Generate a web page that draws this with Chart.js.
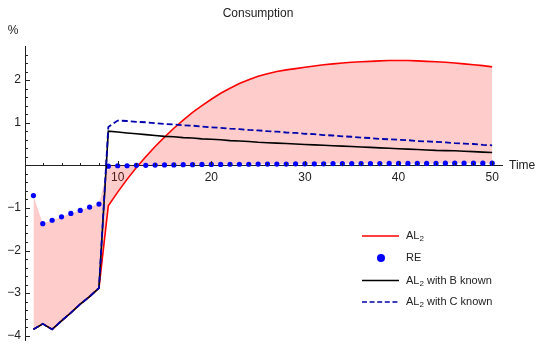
<!DOCTYPE html>
<html>
<head>
<meta charset="utf-8">
<script src="https://cdn.jsdelivr.net/npm/chart.js@4"></script>
<style>
  html, body { margin: 0; padding: 0; background: #ffffff; }
  #c { display: block; }
</style>
</head>
<body>
<canvas id="c" width="539" height="344"></canvas>
<script>
// Periods after the shock
const time = [1, 2, 3, 4, 5, 6, 7, 8, 9, 10,
  11, 12, 13, 14, 15, 16, 17, 18, 19, 20,
  21, 22, 23, 24, 25, 26, 27, 28, 29, 30,
  31, 32, 33, 34, 35, 36, 37, 38, 39, 40,
  41, 42, 43, 44, 45, 46, 47, 48, 49, 50];

// Consumption response, % deviation
const al2 = [-3.85, -3.72, -3.85, -3.65, -3.46, -3.26, -3.08, -2.88, -0.95, -0.63,
  -0.33, -0.05, 0.20, 0.44, 0.66, 0.87, 1.06, 1.24, 1.40, 1.55,
  1.69, 1.81, 1.92, 2.01, 2.09, 2.15, 2.20, 2.24, 2.27, 2.30,
  2.33, 2.36, 2.38, 2.40, 2.42, 2.43, 2.44, 2.45, 2.46, 2.46,
  2.46, 2.45, 2.44, 2.43, 2.42, 2.40, 2.38, 2.36, 2.34, 2.31];

const re = [-0.71, -1.37, -1.29, -1.21, -1.13, -1.06, -0.98, -0.91, -0.02, -0.01,
  -0.01, 0.00, 0.00, 0.005, 0.01, 0.01, 0.015, 0.015, 0.02, 0.02,
  0.02, 0.025, 0.025, 0.025, 0.03, 0.03, 0.03, 0.03, 0.035, 0.035,
  0.035, 0.035, 0.04, 0.04, 0.04, 0.04, 0.04, 0.04, 0.045, 0.045,
  0.045, 0.045, 0.045, 0.045, 0.05, 0.05, 0.05, 0.05, 0.05, 0.05];

const al2B = [-3.85, -3.72, -3.85, -3.65, -3.46, -3.26, -3.08, -2.88, 0.80, 0.78,
  0.76, 0.74, 0.72, 0.70, 0.68, 0.67, 0.65, 0.64, 0.62, 0.61,
  0.60, 0.58, 0.57, 0.56, 0.54, 0.53, 0.52, 0.51, 0.50, 0.49,
  0.48, 0.47, 0.46, 0.45, 0.44, 0.43, 0.42, 0.41, 0.40, 0.39,
  0.38, 0.37, 0.36, 0.35, 0.345, 0.34, 0.33, 0.32, 0.31, 0.30];

const al2C = [-3.85, -3.72, -3.85, -3.65, -3.46, -3.26, -3.08, -2.88, 0.90, 1.05,
  1.04, 1.02, 1.01, 0.99, 0.97, 0.96, 0.94, 0.93, 0.91, 0.89,
  0.88, 0.86, 0.85, 0.83, 0.82, 0.80, 0.79, 0.77, 0.76, 0.74,
  0.73, 0.71, 0.70, 0.68, 0.67, 0.65, 0.64, 0.62, 0.61, 0.60,
  0.59, 0.57, 0.56, 0.55, 0.54, 0.52, 0.51, 0.50, 0.48, 0.47];

const xTicks = [10, 20, 30, 40, 50];
const yTicks = [-4, -3, -2, -1, 1, 2];
const yTickLabels = ['\u22124', '\u22123', '\u22122', '\u22121', '1', '2'];

const FONT = '"Liberation Sans", Arial, sans-serif';
const TEXT = '#222222';
const RED = '#ff0000';
const DOT_BLUE = '#0000ff';
const NAVY = '#0000aa';

const toPoints = arr => time.map((t, i) => ({ x: t, y: arr[i] }));

// Mathematica-style tick marks, axis captions, title and legend
const decorations = {
  id: 'decorations',
  afterDraw(chart) {
    const { ctx, chartArea, scales: { x, y } } = chart;
    const y0 = Math.round(y.getPixelForValue(0)) + 0.5;
    const xl = Math.round(chartArea.left) + 0.5;
    ctx.save();
    ctx.strokeStyle = TEXT;
    ctx.lineWidth = 1;
    ctx.beginPath();
    for (let v = 2; v <= 50; v += 2) {
      const px = Math.round(x.getPixelForValue(v)) + 0.5;
      const len = v % 10 === 0 ? 4.5 : 2.5;
      ctx.moveTo(px, y0);
      ctx.lineTo(px, y0 - len);
    }
    for (let k = -20; k <= 13; k++) {
      if (k === 0) continue;
      const py = Math.round(y.getPixelForValue(k / 5)) + 0.5;
      const len = k % 5 === 0 ? 4.5 : 2.5;
      ctx.moveTo(xl, py);
      ctx.lineTo(xl + len, py);
    }
    ctx.stroke();

    ctx.fillStyle = TEXT;
    ctx.textBaseline = 'middle';
    ctx.font = '12px ' + FONT;
    ctx.textAlign = 'center';
    ctx.fillText('Consumption', 258, 14);
    ctx.fillText('%', 13, 31);
    ctx.textAlign = 'left';
    ctx.fillText('Time', 509, y0);

    // legend
    const entries = [
      { sub: true, rest: '', kind: 'line', color: RED, dash: [] },
      { sub: false, text: 'RE', kind: 'dot', color: DOT_BLUE },
      { sub: true, rest: ' with B known', kind: 'line', color: '#000000', dash: [] },
      { sub: true, rest: ' with C known', kind: 'line', color: NAVY, dash: [5, 2.6] }
    ];
    const rows = [236, 258, 280.5, 302];
    entries.forEach((e, i) => {
      const ry = rows[i];
      if (e.kind === 'line') {
        ctx.beginPath();
        ctx.setLineDash(e.dash);
        ctx.strokeStyle = e.color;
        ctx.lineWidth = 1.6;
        ctx.moveTo(362, ry);
        ctx.lineTo(399, ry);
        ctx.stroke();
        ctx.setLineDash([]);
      } else {
        ctx.beginPath();
        ctx.fillStyle = e.color;
        ctx.arc(381, ry, 4, 0, Math.PI * 2);
        ctx.fill();
      }
      ctx.fillStyle = TEXT;
      ctx.textAlign = 'left';
      ctx.textBaseline = 'middle';
      let tx = 406;
      if (e.sub) {
        ctx.font = '11px ' + FONT;
        ctx.fillText('AL', tx, ry);
        tx += ctx.measureText('AL').width;
        ctx.font = '8px ' + FONT;
        ctx.fillText('2', tx, ry + 3);
        tx += ctx.measureText('2').width;
        ctx.font = '11px ' + FONT;
        ctx.fillText(e.rest, tx, ry);
      } else {
        ctx.font = '11px ' + FONT;
        ctx.fillText(e.text, tx, ry);
      }
    });
    ctx.restore();
  }
};

new Chart(document.getElementById('c'), {
  type: 'line',
  data: {
    datasets: [
      {
        label: 'AL2',
        data: toPoints(al2),
        borderColor: RED,
        borderWidth: 1.6,
        backgroundColor: 'rgba(255,0,0,0.2)',
        fill: 1,
        pointRadius: 0,
        order: 4
      },
      {
        label: 'RE',
        data: toPoints(re),
        borderColor: 'rgba(0,0,0,0)',
        borderWidth: 0,
        fill: false,
        pointRadius: 2.6,
        pointBackgroundColor: DOT_BLUE,
        pointBorderWidth: 0,
        order: 3
      },
      {
        label: 'AL2 with B known',
        data: toPoints(al2B),
        borderColor: '#000000',
        borderWidth: 1.6,
        fill: false,
        pointRadius: 0,
        order: 2
      },
      {
        label: 'AL2 with C known',
        data: toPoints(al2C),
        borderColor: NAVY,
        borderWidth: 1.8,
        borderDash: [6, 3],
        fill: false,
        pointRadius: 0,
        order: 1
      }
    ]
  },
  options: {
    responsive: false,
    animation: false,
    devicePixelRatio: 1,
    layout: { padding: { left: 0, right: 37, top: 46, bottom: 1 } },
    elements: { line: { tension: 0 } },
    plugins: {
      legend: { display: false },
      title: { display: false },
      tooltip: { enabled: false },
      filler: { drawTime: 'beforeDatasetsDraw' }
    },
    scales: {
      x: {
        type: 'linear',
        min: 0.1,
        max: 51.05,
        position: { y: 0 },
        grid: { display: false, drawTicks: false },
        border: { display: true, color: TEXT, width: 1 },
        afterBuildTicks: s => { s.ticks = xTicks.map(v => ({ value: v })); },
        ticks: {
          padding: 5,
          color: TEXT,
          autoSkip: false,
          maxRotation: 0,
          font: { family: FONT, size: 12 },
          callback: (v, i) => String(xTicks[i])
        }
      },
      y: {
        type: 'linear',
        min: -4.1,
        max: 2.8,
        position: 'left',
        grid: { display: false, drawTicks: false },
        border: { display: true, color: TEXT, width: 1 },
        afterBuildTicks: s => { s.ticks = yTicks.map(v => ({ value: v })); },
        afterFit: s => { s.width = 25; s.paddingTop = 0; s.paddingBottom = 0; },
        ticks: {
          padding: 4,
          color: TEXT,
          autoSkip: false,
          font: { family: FONT, size: 12 },
          callback: (v, i) => yTickLabels[i]
        }
      }
    }
  },
  plugins: [decorations]
});
</script>
</body>
</html>
